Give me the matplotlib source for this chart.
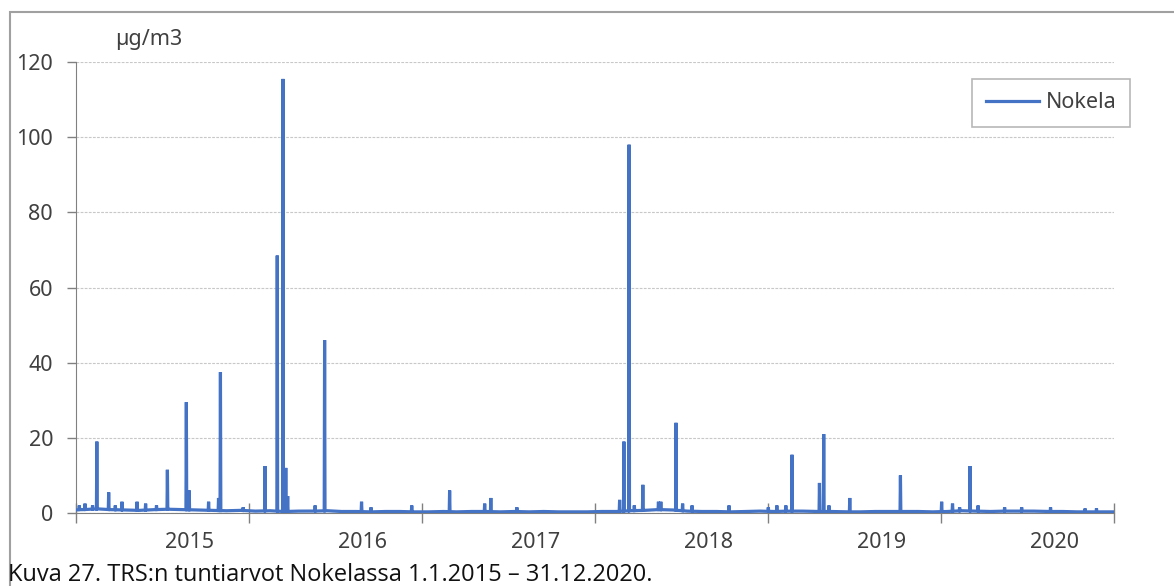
import numpy as np
import pandas as pd
import matplotlib
matplotlib.use("Agg")
import matplotlib.pyplot as plt
from matplotlib.patches import Rectangle

plt.rcParams['font.family'] = ['Noto Sans', 'DejaVu Sans']

# monthly background level (µg/m3), Jan 2015 .. Dec 2020
base_values = [
    0.9, 1.1, 0.9, 0.8, 0.7, 0.9, 1.0, 0.9, 0.8, 0.7, 0.6, 0.7,
    0.5, 0.6, 0.4, 0.5, 0.5, 0.6, 0.4, 0.4, 0.3, 0.4, 0.4, 0.3,
    0.3, 0.4, 0.3, 0.4, 0.4, 0.3, 0.4, 0.3, 0.4, 0.3, 0.3, 0.3,
    0.4, 0.4, 0.6, 0.7, 0.9, 0.8, 0.5, 0.4, 0.4, 0.3, 0.4, 0.5,
    0.4, 0.5, 0.5, 0.4, 0.4, 0.3, 0.3, 0.4, 0.4, 0.4, 0.4, 0.3,
    0.4, 0.6, 0.5, 0.4, 0.5, 0.5, 0.5, 0.4, 0.4, 0.3, 0.3, 0.3,
]
base_dates = pd.date_range("2015-01-01", periods=len(base_values), freq="MS") + pd.Timedelta(days=14)

# hourly peaks
peak_dates = [
    "2015-01-08", "2015-01-20", "2015-02-05", "2015-02-14", "2015-03-11", "2015-03-25",
    "2015-04-08", "2015-05-10", "2015-05-28", "2015-06-20", "2015-07-13", "2015-08-22",
    "2015-08-28", "2015-10-08", "2015-10-29", "2015-11-02", "2015-12-20", "2016-02-04",
    "2016-03-01", "2016-03-13", "2016-03-19", "2016-03-23", "2016-05-20", "2016-06-09",
    "2016-08-26", "2016-09-15", "2016-12-10", "2017-02-28", "2017-05-13", "2017-05-26",
    "2017-07-20", "2018-02-22", "2018-03-03", "2018-03-14", "2018-03-25", "2018-04-12",
    "2018-05-15", "2018-05-20", "2018-06-21", "2018-07-05", "2018-07-25", "2018-10-11",
    "2019-01-02", "2019-01-20", "2019-02-08", "2019-02-21", "2019-04-20", "2019-04-29",
    "2019-05-10", "2019-06-23", "2019-10-08", "2020-01-03", "2020-01-26", "2020-02-10",
    "2020-03-03", "2020-03-20", "2020-05-15", "2020-06-20", "2020-08-20", "2020-11-01",
    "2020-11-25",
]
peak_values = [
    2.0, 2.5, 2.0, 19.0, 5.5, 2.0,
    3.0, 3.0, 2.5, 2.0, 11.5, 29.5,
    6.0, 3.0, 4.0, 37.5, 1.5, 12.5,
    68.5, 115.5, 12.0, 4.5, 2.0, 46.0,
    3.0, 1.5, 2.0, 6.0, 2.5, 4.0,
    1.5, 3.5, 19.0, 98.0, 2.0, 7.5,
    3.0, 3.0, 24.0, 2.5, 2.0, 2.0,
    1.5, 2.0, 2.0, 15.5, 8.0, 21.0,
    2.0, 4.0, 10.0, 3.0, 2.5, 1.5,
    12.5, 2.0, 1.5, 1.5, 1.5, 1.2,
    1.2,
]

# assemble series: peaks are single hours on top of the background level
s = pd.Series(base_values, index=base_dates)
for d, v in zip(peak_dates, peak_values):
    t = pd.Timestamp(d)
    lvl = float(np.interp(t.value, s.index.asi8, s.values))
    s.loc[t - pd.Timedelta(hours=20)] = lvl
    s.loc[t] = v
    s.loc[t + pd.Timedelta(hours=20)] = lvl
    s = s.sort_index()
s.loc[pd.Timestamp("2015-01-01")] = 0.8
s.loc[pd.Timestamp("2020-12-31 23:00")] = 0.3
s = s.sort_index()

fig = plt.figure(figsize=(11.74, 5.86), dpi=100)
ax = fig.add_axes([76/1174, 1 - 513/586, (1114-76)/1174, (513-62)/586])

ax.plot(s.index, s.values, color="#4472C4", lw=2.3, solid_joinstyle="miter", label="Nokela", zorder=3)

ax.set_ylim(0, 120)
ax.set_xlim(pd.Timestamp("2015-01-01"), pd.Timestamp("2021-01-01"))
ax.set_yticks(range(0, 121, 20))
ax.yaxis.grid(True, color="#C8C8C8", ls=(0, (2.5, 1.2)), lw=0.8)
ax.set_axisbelow(True)

years = [2015, 2016, 2017, 2018, 2019, 2020]
ax.set_xticks([pd.Timestamp(f"{y}-01-01") for y in years + [2021]])
ax.set_xticklabels([])
ax.set_xticks([pd.Timestamp(f"{y}-08-29") for y in years], minor=True)
ax.set_xticklabels([str(y) for y in years], minor=True)
ax.tick_params(axis="x", which="major", direction="inout", length=14, color="#808080", width=1)
ax.tick_params(axis="x", which="minor", length=0, pad=14, labelsize=15.5, labelcolor="#404040")
ax.tick_params(axis="y", direction="out", length=6.5, color="#808080", width=1, labelsize=15.5,
               labelcolor="#404040", pad=10)

for sp in ["top", "right"]:
    ax.spines[sp].set_visible(False)
ax.spines["left"].set_color("#808080")
ax.spines["bottom"].set_color("#808080")

leg = ax.legend(loc="upper right", bbox_to_anchor=((1130-76)/1038, (513-79)/451), borderaxespad=0,
                fontsize=15.5, frameon=True, fancybox=False, edgecolor="#A6A6A6", handlelength=2.5,
                borderpad=0.62, handletextpad=0.3)
leg.get_frame().set_linewidth(1.2)
for t in leg.get_texts():
    t.set_color("#404040")

fig.text(115/1174, 1 - 40/586, "µg/m3", fontsize=15.5, color="#404040", va="center", ha="left")

fig.patches.append(Rectangle((10/1174, -0.05), 1.2, 1 - 12/586 + 0.05, transform=fig.transFigure,
                             fill=False, edgecolor="#A0A0A0", lw=1.5))

fig.text(8/1174, 1 - 575/586, "Kuva 27. TRS:n tuntiarvot Nokelassa 1.1.2015 – 31.12.2020.",
         fontsize=17, color="#111111", va="center", ha="left", family=["Open Sans", "DejaVu Sans"])

fig.savefig("out.png", dpi=100)
